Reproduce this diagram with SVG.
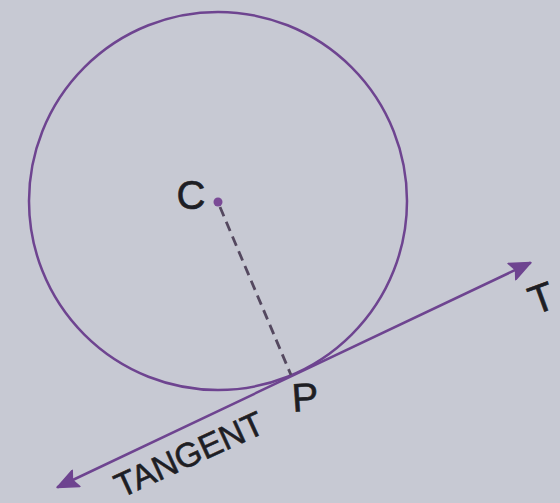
<svg xmlns="http://www.w3.org/2000/svg" width="560" height="503" viewBox="0 0 560 503">
<defs>
<style>
.geo{fill:none;stroke:#6e4490;stroke-width:2.5;stroke-linecap:round}
.dash{fill:none;stroke:#54485f;stroke-width:2.8;stroke-dasharray:10 6}
.lbl{font-family:"Liberation Sans",Arial,sans-serif;font-size:40px;fill:#1e1e24;stroke:#1e1e24;stroke-width:0.6}
</style>
<marker id="ah" viewBox="0 0 24 20" refX="22" refY="10" markerWidth="24" markerHeight="20" markerUnits="userSpaceOnUse" orient="auto-start-reverse">
<path d="M2,1 L23,10 L2,19 L6,10 Z" fill="#6e4490" stroke="#6e4490" stroke-width="1.5" stroke-linejoin="round"/>
</marker>
</defs>
<rect width="560" height="503" fill="#c7c9d3"/>
<g id="circle">
<circle class="geo" cx="218" cy="201" r="189"/>
</g>
<g id="center-C">
<circle cx="218" cy="202" r="4.5" fill="#7a4a96"/>
<text class="lbl" x="191" y="209" text-anchor="middle">C</text>
</g>
<g id="point-P">
<text class="lbl" x="305" y="411" text-anchor="middle" transform="rotate(-4 305 396)">P</text>
</g>
<g id="label-T">
<text class="lbl" x="541" y="312" text-anchor="middle" transform="rotate(-20 541 297)">T</text>
</g>
<g id="label-tangent">
<text class="lbl" style="font-size:34px" x="194" y="465" text-anchor="middle" transform="rotate(-24.5 194 465)">TANGENT</text>
</g>
<g id="connectors">
<line class="dash" x1="220" y1="207" x2="291" y2="375"/>
<line class="geo" x1="58" y1="487" x2="530" y2="263" marker-start="url(#ah)" marker-end="url(#ah)"/>
</g>
</svg>
